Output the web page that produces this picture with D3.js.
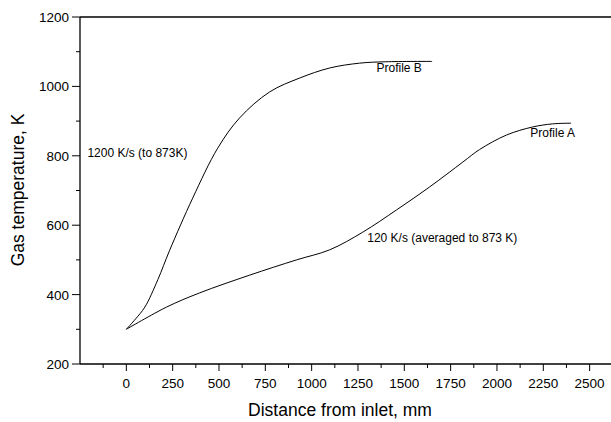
<!DOCTYPE html>
<html>
<head>
<meta charset="utf-8">
<script src="https://cdn.jsdelivr.net/npm/d3@7"></script>
<style>
  body { margin: 0; background: #fff; }
  text { font-family: "Liberation Sans", Arial, sans-serif; fill: #000; }
</style>
</head>
<body>
<div id="chart"></div>
<script>
// Profile B (1200 K/s)
var profileBx = [0, 50, 100, 170, 234, 358, 493, 611, 773, 935, 1097, 1259, 1400, 1650];
var profileBy = [300, 330, 364, 443, 528, 678, 822, 909, 984, 1024, 1053, 1067, 1071, 1072];
// Profile A (120 K/s)
var profileAx = [0, 217, 396, 665, 918, 1097, 1276, 1458, 1636, 1816, 1906, 2052, 2192, 2300, 2400];
var profileAy = [300, 364, 405, 456, 500, 529, 580, 644, 710, 782, 818, 860, 883, 892, 894];

var xTicks = [0, 250, 500, 750, 1000, 1250, 1500, 1750, 2000, 2250, 2500];
var yTicks = [200, 400, 600, 800, 1000, 1200];

var labels = [
  {text: "Profile B", x: 1350, y: 1041},
  {text: "Profile A", x: 2180, y: 854},
  {text: "1200 K/s (to 873K)", x: -210, y: 796},
  {text: "120 K/s (averaged to 873 K)", x: 1300, y: 551}
];

var W = 611, H = 422;
var mLeft = 80, mTop = 17, mBottom = 364;

var x = d3.scaleLinear().domain([-250, 2500]).range([mLeft, mLeft + 2750 * (463.3 / 2500)]);
var y = d3.scaleLinear().domain([200, 1200]).range([mBottom, mTop]);

var svg = d3.select('#chart').append('svg')
  .attr('width', W)
  .attr('height', H);

// frame line on top (runs to the right edge)
svg.append('line').attr('x1', mLeft).attr('x2', W).attr('y1', mTop).attr('y2', mTop)
  .attr('stroke', '#000').attr('stroke-width', 1.3);

// x axis
var xAxis = svg.append('g').attr('transform', 'translate(0,' + mBottom + ')');
xAxis.append('line').attr('x1', mLeft).attr('x2', W).attr('stroke', '#000').attr('stroke-width', 1.3);
var xMinor = d3.range(-125, 2626, 250);
xAxis.selectAll('.mn').data(xMinor).enter().append('line')
  .attr('x1', function(d) { return x(d); }).attr('x2', function(d) { return x(d); })
  .attr('y1', 0).attr('y2', 4).attr('stroke', '#000');
xAxis.selectAll('.mj').data(xTicks).enter().append('line')
  .attr('x1', function(d) { return x(d); }).attr('x2', function(d) { return x(d); })
  .attr('y1', 0).attr('y2', 7).attr('stroke', '#000');
xAxis.selectAll('text').data(xTicks).enter().append('text')
  .attr('x', function(d) { return x(d); })
  .attr('y', 24)
  .attr('text-anchor', 'middle')
  .style('font-size', '13.5px')
  .text(function(d) { return d; });

// y axis
var yAxis = svg.append('g').attr('transform', 'translate(' + mLeft + ',0)');
yAxis.append('line').attr('y1', mTop).attr('y2', mBottom).attr('stroke', '#000').attr('stroke-width', 1.3);
var yMinor = d3.range(300, 1200, 200);
yAxis.selectAll('.mn').data(yMinor).enter().append('line')
  .attr('y1', function(d) { return y(d); }).attr('y2', function(d) { return y(d); })
  .attr('x1', 0).attr('x2', -4).attr('stroke', '#000');
yAxis.selectAll('.mj').data(yTicks).enter().append('line')
  .attr('y1', function(d) { return y(d); }).attr('y2', function(d) { return y(d); })
  .attr('x1', 0).attr('x2', -8).attr('stroke', '#000');
yAxis.selectAll('text').data(yTicks).enter().append('text')
  .attr('x', -11)
  .attr('y', function(d) { return y(d) + 5; })
  .attr('text-anchor', 'end')
  .style('font-size', '13.5px')
  .text(function(d) { return d; });

// axis titles
svg.append('text')
  .attr('x', 340).attr('y', 416)
  .attr('text-anchor', 'middle')
  .style('font-size', '17.5px')
  .text('Distance from inlet, mm');
svg.append('text')
  .attr('transform', 'translate(24,190) rotate(-90)')
  .attr('text-anchor', 'middle')
  .style('font-size', '17.5px')
  .text('Gas temperature, K');

// curves
var line = d3.line()
  .x(function(d) { return x(d[0]); })
  .y(function(d) { return y(d[1]); })
  .curve(d3.curveCatmullRom.alpha(0.5));

var series = [d3.zip(profileBx, profileBy), d3.zip(profileAx, profileAy)];
svg.selectAll('.curve').data(series).enter().append('path')
  .attr('class', 'curve')
  .attr('d', line)
  .attr('fill', 'none')
  .attr('stroke', '#000')
  .attr('stroke-width', 1);

// annotations
svg.selectAll('.lbl').data(labels).enter().append('text')
  .attr('class', 'lbl')
  .attr('x', function(d) { return x(d.x); })
  .attr('y', function(d) { return y(d.y); })
  .style('font-size', '12px')
  .text(function(d) { return d.text; });
</script>
</body>
</html>
